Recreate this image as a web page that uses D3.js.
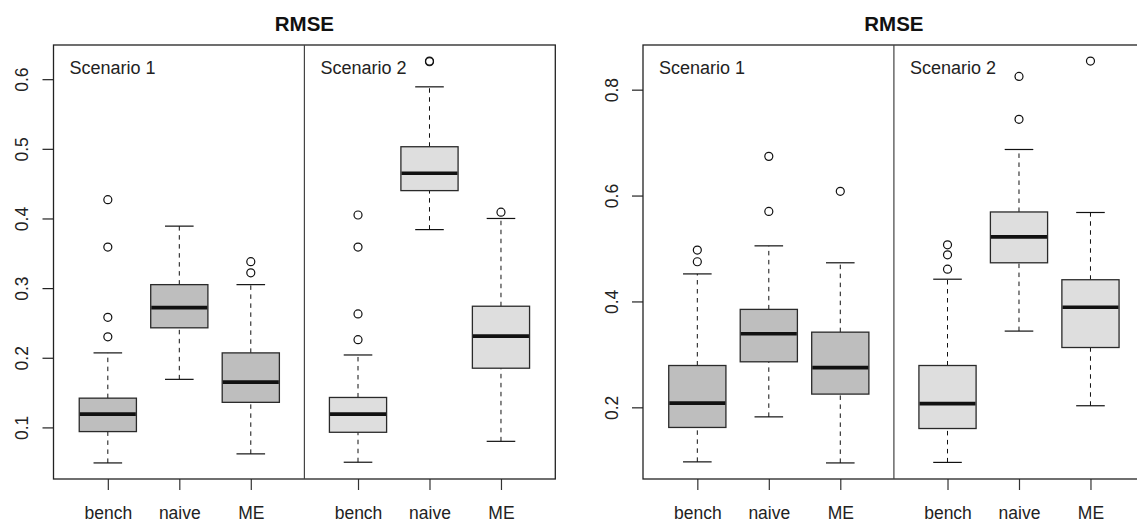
<!DOCTYPE html>
<html>
<head>
<meta charset="utf-8">
<script src="https://cdn.jsdelivr.net/npm/d3@7"></script>
<style>
  html, body { margin: 0; padding: 0; background: #fff; }
  svg { display: block; font-family: "Liberation Sans", Arial, Helvetica, sans-serif; }
</style>
</head>
<body>
<svg id="chart" width="1137" height="522"></svg>
<script>
// ---------- data ----------
const categories = ["bench", "naive", "ME"];
const scenarios = ["Scenario 1", "Scenario 2"];
const panelTitles = ["RMSE", "RMSE"];
const leftTicks = [0.1, 0.2, 0.3, 0.4, 0.5, 0.6];
const rightTicks = [0.2, 0.4, 0.6, 0.8];

// five-number summaries [lower whisker, Q1, median, Q3, upper whisker]
const leftS1Stats = [
  [0.049, 0.094, 0.119, 0.142, 0.207],
  [0.169, 0.243, 0.272, 0.305, 0.389],
  [0.062, 0.136, 0.165, 0.207, 0.305]
];
const leftS1Out = [[0.230, 0.258, 0.359, 0.427], [], [0.322, 0.338]];
const leftS2Stats = [
  [0.050, 0.093, 0.119, 0.143, 0.204],
  [0.384, 0.440, 0.465, 0.503, 0.589],
  [0.080, 0.185, 0.231, 0.274, 0.400]
];
const leftS2Out = [[0.226, 0.263, 0.359, 0.405], [0.625, 0.626], [0.409]];

const rightS1Stats = [
  [0.097, 0.162, 0.208, 0.279, 0.452],
  [0.182, 0.286, 0.339, 0.385, 0.505],
  [0.095, 0.225, 0.275, 0.342, 0.473]
];
const rightS1Out = [[0.475, 0.497], [0.570, 0.674], [0.608]];
const rightS2Stats = [
  [0.096, 0.160, 0.207, 0.279, 0.442],
  [0.344, 0.473, 0.522, 0.569, 0.687],
  [0.203, 0.313, 0.389, 0.441, 0.568]
];
const rightS2Out = [[0.461, 0.488, 0.507], [0.744, 0.825], [0.854]];

// ---------- layout ----------
const svg = d3.select("#chart");
const scenarioFill = ["#bebebe", "#dedede"];

const panels = [
  { x0: 53.5, x1: 555.3, title: panelTitles[0], ticks: leftTicks,
    stats: [leftS1Stats, leftS2Stats], outs: [leftS1Out, leftS2Out] },
  { x0: 643, x1: 1144.8, title: panelTitles[1], ticks: rightTicks,
    stats: [rightS1Stats, rightS2Stats], outs: [rightS1Out, rightS2Out] }
];
const yTop = 45, yBot = 479;

function pos(s, i) { return i + 1 + s * 3.5; }

panels.forEach(p => {
  const g = svg.append("g");
  const all = [];
  p.stats.forEach((st, s) => st.forEach((b, i) => { all.push(...b); all.push(...p.outs[s][i]); }));
  const [mn, mx] = d3.extent(all);
  const pad = (mx - mn) * 0.04;
  const y = d3.scaleLinear().domain([mn - pad, mx + pad]).range([yBot, yTop]);
  const x = d3.scaleLinear().domain([0.5 - 0.26, 7 + 0.26]).range([p.x0, p.x1]);
  const bw = x(0.8) - x(0);
  const cw = x(0.4) - x(0);

  // y axis
  const yAxis = d3.axisLeft(y).tickValues(p.ticks).tickSize(11).tickPadding(3)
    .tickFormat(d3.format(".1f"));
  const ya = g.append("g").attr("transform", `translate(${p.x0},0)`).call(yAxis);
  ya.select(".domain").remove();
  ya.selectAll(".tick line").attr("stroke", "#222").attr("stroke-width", 1.2);
  ya.selectAll(".tick text")
    .attr("x", null)
    .attr("fill", "#222")
    .style("font-size", "17.5px")
    .attr("text-anchor", "middle")
    .attr("transform", `translate(-25.5,0) rotate(-90)`)
    .attr("dy", "0em");

  // x axis
  const xpos = [];
  const xlabs = [];
  [0, 1].forEach(s => categories.forEach((c, i) => { xpos.push(pos(s, i)); xlabs.push(c); }));
  const xAxis = d3.axisBottom(x).tickValues(xpos).tickSize(11).tickPadding(18)
    .tickFormat((d, k) => xlabs[k]);
  const xa = g.append("g").attr("transform", `translate(0,${yBot})`).call(xAxis);
  xa.select(".domain").remove();
  xa.selectAll(".tick line").attr("stroke", "#333").attr("stroke-width", 1.2);
  xa.selectAll(".tick text").attr("fill", "#222").style("font-size", "17.5px")
    .attr("dy", "0").attr("y", 39.5);

  // boxes
  [0, 1].forEach(s => {
    p.stats[s].forEach((b, i) => {
      const cx = x(pos(s, i));
      const bg = g.append("g");
      bg.append("line").attr("x1", cx).attr("x2", cx).attr("y1", y(b[0])).attr("y2", y(b[1]))
        .attr("stroke", "#111").attr("stroke-width", 1).attr("stroke-dasharray", "4.5,4.5");
      bg.append("line").attr("x1", cx).attr("x2", cx).attr("y1", y(b[3])).attr("y2", y(b[4]))
        .attr("stroke", "#111").attr("stroke-width", 1).attr("stroke-dasharray", "4.5,4.5");
      [b[0], b[4]].forEach(v => {
        bg.append("line").attr("x1", cx - cw / 2).attr("x2", cx + cw / 2)
          .attr("y1", y(v)).attr("y2", y(v)).attr("stroke", "#111").attr("stroke-width", 1.2);
      });
      bg.append("rect").attr("x", cx - bw / 2).attr("width", bw)
        .attr("y", y(b[3])).attr("height", y(b[1]) - y(b[3]))
        .attr("fill", scenarioFill[s]).attr("stroke", "#2a2a2a").attr("stroke-width", 1.3);
      bg.append("line").attr("x1", cx - bw / 2 + 0.6).attr("x2", cx + bw / 2 - 0.6)
        .attr("y1", y(b[2])).attr("y2", y(b[2])).attr("stroke", "#111").attr("stroke-width", 3.6);
      p.outs[s][i].forEach(v => {
        bg.append("circle").attr("cx", cx).attr("cy", y(v)).attr("r", 4)
          .attr("fill", "none").attr("stroke", "#111").attr("stroke-width", 1.2);
      });
    });
  });

  // frame & divider
  g.append("rect").attr("x", p.x0).attr("y", yTop).attr("width", p.x1 - p.x0).attr("height", yBot - yTop)
    .attr("fill", "none").attr("stroke", "#222").attr("stroke-width", 1.3);
  g.append("line").attr("x1", x(3.75)).attr("x2", x(3.75)).attr("y1", yTop).attr("y2", yBot)
    .attr("stroke", "#444").attr("stroke-width", 1.2);

  // scenario labels
  scenarios.forEach((sname, s) => {
    const lx = s === 0 ? p.x0 : x(3.75);
    g.append("text").attr("x", lx + 16).attr("y", 73.5)
      .attr("fill", "#222").style("font-size", "18px").text(sname);
  });

  // title
  g.append("text").attr("x", (p.x0 + p.x1) / 2).attr("y", 30.5)
    .attr("text-anchor", "middle").style("font-size", "20.5px").style("font-weight", "bold")
    .attr("fill", "#111").text(p.title);
});
</script>
</body>
</html>
